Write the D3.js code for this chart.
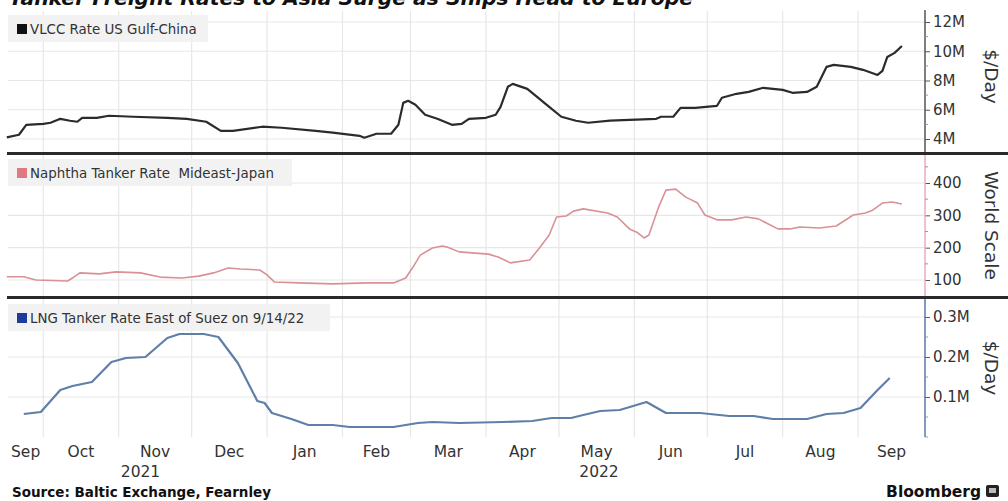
<!DOCTYPE html>
<html><head><meta charset="utf-8">
<script src="https://cdn.jsdelivr.net/npm/d3@7"></script>
<style>body{margin:0;background:#fff}svg{display:block}</style>
</head><body>
<svg id="c" width="1008" height="501"></svg>
<script>
// ---- data ----
const vlccDates = ["2021-09-16","2021-09-21","2021-09-24","2021-10-01","2021-10-04","2021-10-08","2021-10-12","2021-10-15","2021-10-17","2021-10-23","2021-10-28","2021-11-07","2021-11-21","2021-11-29","2021-12-07","2021-12-13","2021-12-18","2021-12-30","2022-01-07","2022-01-21","2022-01-28","2022-02-08","2022-02-10","2022-02-15","2022-02-21","2022-02-24","2022-02-26","2022-02-28","2022-03-03","2022-03-07","2022-03-12","2022-03-18","2022-03-22","2022-03-25","2022-04-01","2022-04-05","2022-04-07","2022-04-10","2022-04-12","2022-04-18","2022-04-22","2022-04-27","2022-05-02","2022-05-08","2022-05-13","2022-05-22","2022-05-30","2022-06-10","2022-06-12","2022-06-17","2022-06-20","2022-06-26","2022-07-05","2022-07-07","2022-07-13","2022-07-18","2022-07-24","2022-08-01","2022-08-05","2022-08-11","2022-08-15","2022-08-19","2022-08-22","2022-08-29","2022-09-03","2022-09-09","2022-09-11","2022-09-13","2022-09-16","2022-09-19"];
const vlccValues = [4.11,4.29,4.97,5.04,5.11,5.38,5.25,5.18,5.45,5.45,5.59,5.52,5.45,5.38,5.18,4.56,4.56,4.84,4.77,4.56,4.43,4.22,4.09,4.36,4.36,4.97,6.47,6.61,6.34,5.66,5.38,4.97,5.04,5.38,5.45,5.66,6.2,7.57,7.77,7.43,6.88,6.2,5.52,5.25,5.11,5.25,5.31,5.38,5.52,5.52,6.13,6.13,6.27,6.82,7.09,7.22,7.5,7.36,7.16,7.22,7.57,8.93,9.07,8.93,8.73,8.38,8.66,9.61,9.89,10.36];

const naphthaDates = ["2021-09-16","2021-09-23","2021-09-28","2021-10-11","2021-10-13","2021-10-16","2021-10-24","2021-10-31","2021-11-10","2021-11-18","2021-11-27","2021-12-04","2021-12-10","2021-12-16","2021-12-21","2021-12-29","2022-01-01","2022-01-04","2022-01-14","2022-01-28","2022-02-11","2022-02-22","2022-02-27","2022-03-02","2022-03-05","2022-03-10","2022-03-14","2022-03-16","2022-03-21","2022-04-02","2022-04-06","2022-04-11","2022-04-19","2022-04-23","2022-04-27","2022-04-30","2022-05-04","2022-05-07","2022-05-11","2022-05-21","2022-05-25","2022-05-30","2022-06-02","2022-06-05","2022-06-07","2022-06-11","2022-06-14","2022-06-18","2022-06-22","2022-06-27","2022-06-30","2022-07-05","2022-07-11","2022-07-17","2022-07-22","2022-07-30","2022-08-04","2022-08-08","2022-08-16","2022-08-23","2022-08-30","2022-09-04","2022-09-07","2022-09-11","2022-09-15","2022-09-19"];
const naphthaValues = [110,110,100,97,106,122,119,125,122,109,106,112,122,137,134,131,116,94,91,88,91,91,106,140,177,199,205,202,187,180,171,153,162,199,239,295,298,313,320,307,295,258,248,230,239,326,378,381,357,338,301,286,286,295,289,258,258,264,261,267,301,307,316,338,341,335];

const lngDates = ["2021-09-23","2021-09-30","2021-10-08","2021-10-13","2021-10-21","2021-10-29","2021-11-04","2021-11-12","2021-11-21","2021-11-26","2021-12-06","2021-12-12","2021-12-20","2021-12-28","2021-12-31","2022-01-03","2022-01-11","2022-01-18","2022-01-28","2022-02-04","2022-02-22","2022-03-04","2022-03-10","2022-03-21","2022-04-08","2022-04-20","2022-04-28","2022-05-06","2022-05-11","2022-05-18","2022-05-26","2022-06-06","2022-06-14","2022-06-28","2022-07-10","2022-07-20","2022-07-28","2022-08-11","2022-08-19","2022-08-26","2022-09-02","2022-09-09","2022-09-14"];
const lngValues = [0.0575,0.0625,0.1175,0.1275,0.1375,0.1875,0.1975,0.2,0.2475,0.2575,0.2575,0.25,0.185,0.09,0.085,0.06,0.045,0.03,0.03,0.025,0.025,0.035,0.0375,0.035,0.0375,0.04,0.0475,0.0475,0.055,0.065,0.0675,0.0875,0.06,0.06,0.0525,0.0525,0.045,0.045,0.0575,0.06,0.0725,0.1175,0.1475];

const vlccTicks = [4,6,8,10,12];
const vlccTickLabels = ["4M","6M","8M","10M","12M"];
const naphthaTicks = [100,200,300,400];
const naphthaTickLabels = ["100","200","300","400"];
const lngTicks = [0.1,0.2,0.3];
const lngTickLabels = ["0.1M","0.2M","0.3M"];
const monthLabels = ["Sep","Oct","Nov","Dec","Jan","Feb","Mar","Apr","May","Jun","Jul","Aug","Sep"];
const yearLabels = ["2021","2022"];
const seriesNames = ["VLCC Rate US Gulf-China","Naphtha Tanker Rate  Mideast-Japan","LNG Tanker Rate East of Suez on 9/14/22"];
const axisTitles = ["$/Day","World Scale","$/Day"];

// ---- drawing ----
const svg = d3.select("#c");
const FONT = "'DejaVu Sans', Verdana, sans-serif";
const parse = d3.timeParse("%Y-%m-%d");
const x0 = new Date(2021,8,16,12), x1 = new Date(2022,8,28,12);
const x = d3.scaleTime().domain([x0,x1]).range([8,925]);
const L = 8, R = 925;

svg.append("rect").attr("width",1008).attr("height",501).attr("fill","#fff");

// title (cut off at top)
svg.append("text").attr("x",9).attr("y",5)
  .attr("font-family",FONT).attr("font-weight","bold").attr("font-style","italic")
  .attr("font-size",20).attr("fill","#111")
  .attr("textLength",684).attr("lengthAdjust","spacingAndGlyphs")
  .text("Tanker Freight Rates to Asia Surge as Ships Head to Europe");

const panels = [
  {top:11, bottom:152, y:d3.scaleLinear().domain([4,12]).range([139,22]),
   ticks:vlccTicks, labels:vlccTickLabels, minor:[5,7,9,11],
   dates:vlccDates, values:vlccValues, color:"#2b2b2b", width:2.2,
   axisColor:"#555", swatch:"#111", legendW:200, legendY:15, title:axisTitles[0], name:seriesNames[0]},
  {top:155, bottom:296, y:d3.scaleLinear().domain([100,400]).range([280,183]),
   ticks:naphthaTicks, labels:naphthaTickLabels, minor:[150,250,350,450],
   dates:naphthaDates, values:naphthaValues, color:"#d99196", width:1.6,
   axisColor:"#e8aebb", swatch:"#e07a82", legendW:284, legendY:159, title:axisTitles[1], name:seriesNames[1]},
  {top:299, bottom:437, y:d3.scaleLinear().domain([0,0.3]).range([437,317]),
   ticks:lngTicks, labels:lngTickLabels, minor:[0,0.05,0.15,0.25],
   dates:lngDates, values:lngValues, color:"#5f7fa8", width:2.2,
   axisColor:"#5a78a8", swatch:"#1e3c9a", legendW:322, legendY:304, title:axisTitles[2], name:seriesNames[2]}
];

const monthStarts = d3.timeMonth.range(d3.timeMonth.ceil(x0), x1);

panels.forEach(p => {
  const g = svg.append("g");
  // horizontal grid
  g.selectAll("line.hg").data(p.ticks).join("line")
    .attr("x1",L).attr("x2",R).attr("y1",d=>p.y(d)).attr("y2",d=>p.y(d))
    .attr("stroke","#e7e7e7").attr("stroke-width",1.2);
  // vertical grid
  g.selectAll("line.vg").data(monthStarts).join("line")
    .attr("x1",d=>x(d)).attr("x2",d=>x(d)).attr("y1",p.top).attr("y2",p.bottom)
    .attr("stroke","#e7e7e7").attr("stroke-width",1.2);
  // legend box
  g.append("rect").attr("x",L).attr("y",p.legendY).attr("width",p.legendW).attr("height",27)
    .attr("fill","#f1f1f1").attr("opacity",0.9);
  g.append("rect").attr("x",17).attr("y",p.legendY+9).attr("width",10).attr("height",10).attr("fill",p.swatch);
  g.append("text").attr("x",30).attr("y",p.legendY+18.5)
    .attr("font-family",FONT).attr("font-size",13.4).attr("fill","#333").attr("xml:space","preserve")
    .style("white-space","pre").text(p.name);
  // line
  const line = d3.line().x((d,i)=>x(parse(p.dates[i]))).y(d=>p.y(d));
  g.append("path").datum(p.values).attr("d",line).attr("fill","none")
    .attr("stroke",p.color).attr("stroke-width",p.width).attr("stroke-linejoin","round");
  // right axis
  const ax = d3.axisRight(p.y).tickValues(p.ticks).tickFormat((d,i)=>p.labels[i]).tickSize(5).tickPadding(3);
  const ag = g.append("g").attr("transform",`translate(${R},0)`).call(ax);
  ag.select(".domain").remove();
  ag.selectAll(".tick line").attr("stroke","#555");
  ag.selectAll(".tick text").attr("font-family",FONT).attr("font-size",15).attr("fill","#333");
  g.append("line").attr("x1",R).attr("x2",R).attr("y1",p.top-1).attr("y2",p.bottom)
    .attr("stroke",p.axisColor).attr("stroke-width",1.5);
  g.selectAll("line.mt").data(p.minor.filter(v=>p.y(v)>=p.top && p.y(v)<=p.bottom)).join("line")
    .attr("x1",R).attr("x2",R+3).attr("y1",d=>p.y(d)).attr("y2",d=>p.y(d))
    .attr("stroke","#999").attr("stroke-width",1);
  // axis title
  const cy = (p.top+p.bottom)/2 + (p===panels[0]? -5 : 0);
  g.append("text").attr("transform",`translate(985,${cy}) rotate(90)`)
    .attr("text-anchor","middle").attr("font-family",FONT).attr("font-size",18.5).attr("fill","#333")
    .text(p.title);
});

// separators
[153.5, 297.5].forEach(yy => {
  svg.append("line").attr("x1",7).attr("x2",1008).attr("y1",yy).attr("y2",yy)
    .attr("stroke","#2a2a2a").attr("stroke-width",3);
});

// month labels centred in visible part of each month
const monthsAll = d3.timeMonth.range(d3.timeMonth.floor(x0), x1);
svg.selectAll("text.m").data(monthsAll).join("text")
  .attr("x",d=>{const a=Math.max(+d,+x0), b=Math.min(+d3.timeMonth.offset(d,1),+x1); return (x(a)+x(b))/2;})
  .attr("y",457).attr("text-anchor","middle")
  .attr("font-family",FONT).attr("font-size",15.5).attr("fill","#333")
  .text((d,i)=>monthLabels[i]);

// year labels centred in visible part of each year
const years = [new Date(2021,0,1), new Date(2022,0,1)];
svg.selectAll("text.y").data(years).join("text")
  .attr("x",d=>{const a=Math.max(+d,+x0), b=Math.min(+d3.timeYear.offset(d,1),+x1); return (x(a)+x(b))/2 + 3;})
  .attr("y",477).attr("text-anchor","middle")
  .attr("font-family",FONT).attr("font-size",15.5).attr("fill","#333")
  .text((d,i)=>yearLabels[i]);

// footer
svg.append("text").attr("x",12).attr("y",497)
  .attr("font-family",FONT).attr("font-weight","bold").attr("font-size",13.5).attr("fill","#111")
  .text("Source: Baltic Exchange, Fearnley");
svg.append("text").attr("x",981).attr("y",497).attr("text-anchor","end")
  .attr("font-family",FONT).attr("font-weight","bold").attr("font-size",15.5).attr("fill","#111")
  .text("Bloomberg");
svg.append("rect").attr("x",986).attr("y",485).attr("width",13).attr("height",12).attr("rx",2).attr("fill","#222");
svg.append("rect").attr("x",989).attr("y",488).attr("width",7).attr("height",5).attr("fill","#bbb");
</script>
</body></html>
